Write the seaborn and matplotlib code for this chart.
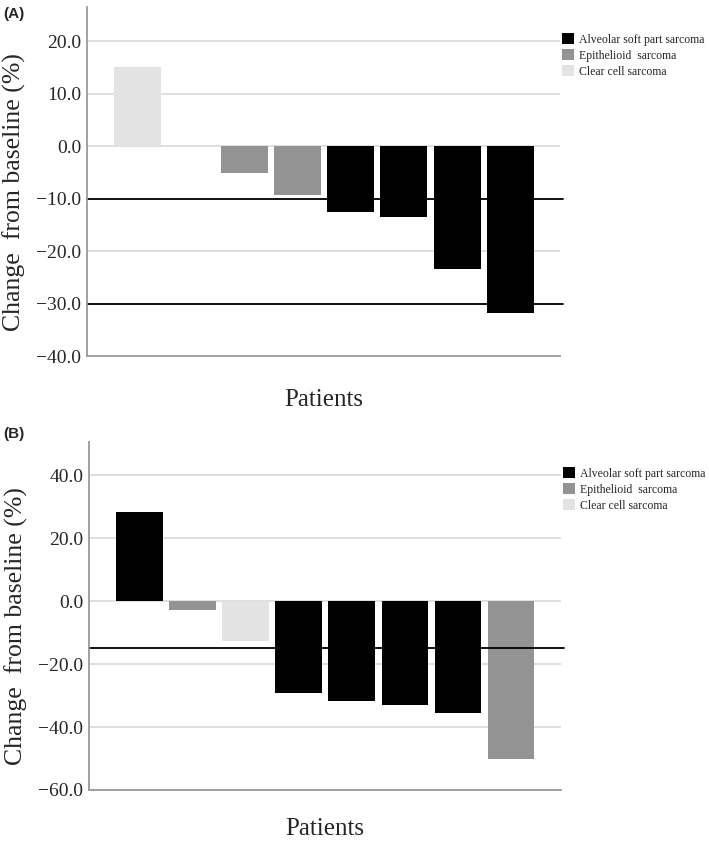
import matplotlib
matplotlib.use("Agg")
import numpy as np
import pandas as pd
import seaborn as sns
from matplotlib import pyplot as plt

ASPS = "Alveolar soft part sarcoma"
ES = "Epithelioid  sarcoma"
CCS = "Clear cell sarcoma"
tumor_order = [ASPS, ES, CCS]
tumor_colors = {ASPS: "#000000", ES: "#939393", CCS: "#e3e3e3"}

# panel A: patient 2 has no bar
patients_a = ["1", "3", "4", "5", "6", "7", "8"]
change_a = [15.0, -5.1, -9.4, -12.6, -13.5, -23.5, -31.9]
types_a = [CCS, ES, ES, ASPS, ASPS, ASPS, ASPS]
slots_a = ["1", "2", "3", "4", "5", "6", "7", "8"]
ref_a = [-10.0, -30.0]
ticks_a = [20.0, 10.0, 0.0, -10.0, -20.0, -30.0, -40.0]

patients_b = ["1", "2", "3", "4", "5", "6", "7", "8"]
change_b = [28.4, -2.9, -12.6, -29.3, -31.7, -32.9, -35.7, -50.0]
types_b = [ASPS, ES, CCS, ASPS, ASPS, ASPS, ASPS, ES]
slots_b = patients_b
ref_b = [-15.0]
ticks_b = [40.0, 20.0, 0.0, -20.0, -40.0, -60.0]

sns.set_style("white")
plt.rcParams["font.family"] = ["Liberation Serif", "DejaVu Serif"]
plt.rcParams["axes.unicode_minus"] = True

fig = plt.figure(figsize=(7.09, 8.41), dpi=100)
ax_a = fig.add_axes([87 / 709, 1 - 356 / 841, 473 / 709, 349 / 841])
ax_b = fig.add_axes([89 / 709, 1 - 790 / 841, 472 / 709, 348 / 841])


def panel(ax, patients, change, types, slots, refs, ticks, ylim, xlim, leg_top, xpad):
    df = pd.DataFrame({"patient": patients, "change": change, "type": types})
    sns.barplot(data=df, x="patient", y="change", hue="type", order=slots,
                hue_order=tumor_order, palette=tumor_colors, dodge=False,
                width=0.88, linewidth=0, saturation=1, ax=ax)
    ax.set_ylim(*ylim)
    ax.set_xlim(*xlim)
    ax.set_yticks(ticks)
    ax.set_yticklabels([f"{t:.1f}".replace("-", "\u2212") for t in ticks], fontsize=14)
    ax.set_xticks([])
    ax.tick_params(axis="y", length=0, pad=4)
    ax.grid(axis="y", color="#d9d9d9", linewidth=1.2)
    ax.set_axisbelow(True)
    for r in refs:
        ax.axhline(r, xmin=0, xmax=1.007, color="black", linewidth=1.3,
                   zorder=1.5, clip_on=False)
    for side in ["top", "right"]:
        ax.spines[side].set_visible(False)
    for side in ["left", "bottom"]:
        ax.spines[side].set_color("#9a9a9a")
        ax.spines[side].set_linewidth(1.3)
    ax.set_xlabel("Patients", fontsize=18, labelpad=xpad)
    ax.set_ylabel("Change  from baseline (%)", fontsize=18.5)
    ax.yaxis.set_label_coords(-0.13, 0.47)
    ax.legend(loc="upper left", bbox_to_anchor=(1.005, leg_top), frameon=False,
              fontsize=8.5, handlelength=1.0, handleheight=1.05,
              handletextpad=0.4, labelspacing=0.3, borderpad=0, borderaxespad=0)


panel(ax_a, patients_a, change_a, types_a, slots_a, ref_a, ticks_a,
      (-40.0, 26.5), (-0.95, 7.93), 0.925, 24)
panel(ax_b, patients_b, change_b, types_b, slots_b, ref_b, ticks_b,
      (-60.0, 50.5), (-0.95, 7.94), 0.928, 20)

fig.text(0.004, 1 - 14 / 841, "(A)", fontsize=11, fontweight="bold",
         family="Liberation Sans", va="center", ha="left")
fig.text(0.004, 1 - 434 / 841, "(B)", fontsize=11, fontweight="bold",
         family="Liberation Sans", va="center", ha="left")

fig.savefig("out.png", dpi=100, facecolor="white")
